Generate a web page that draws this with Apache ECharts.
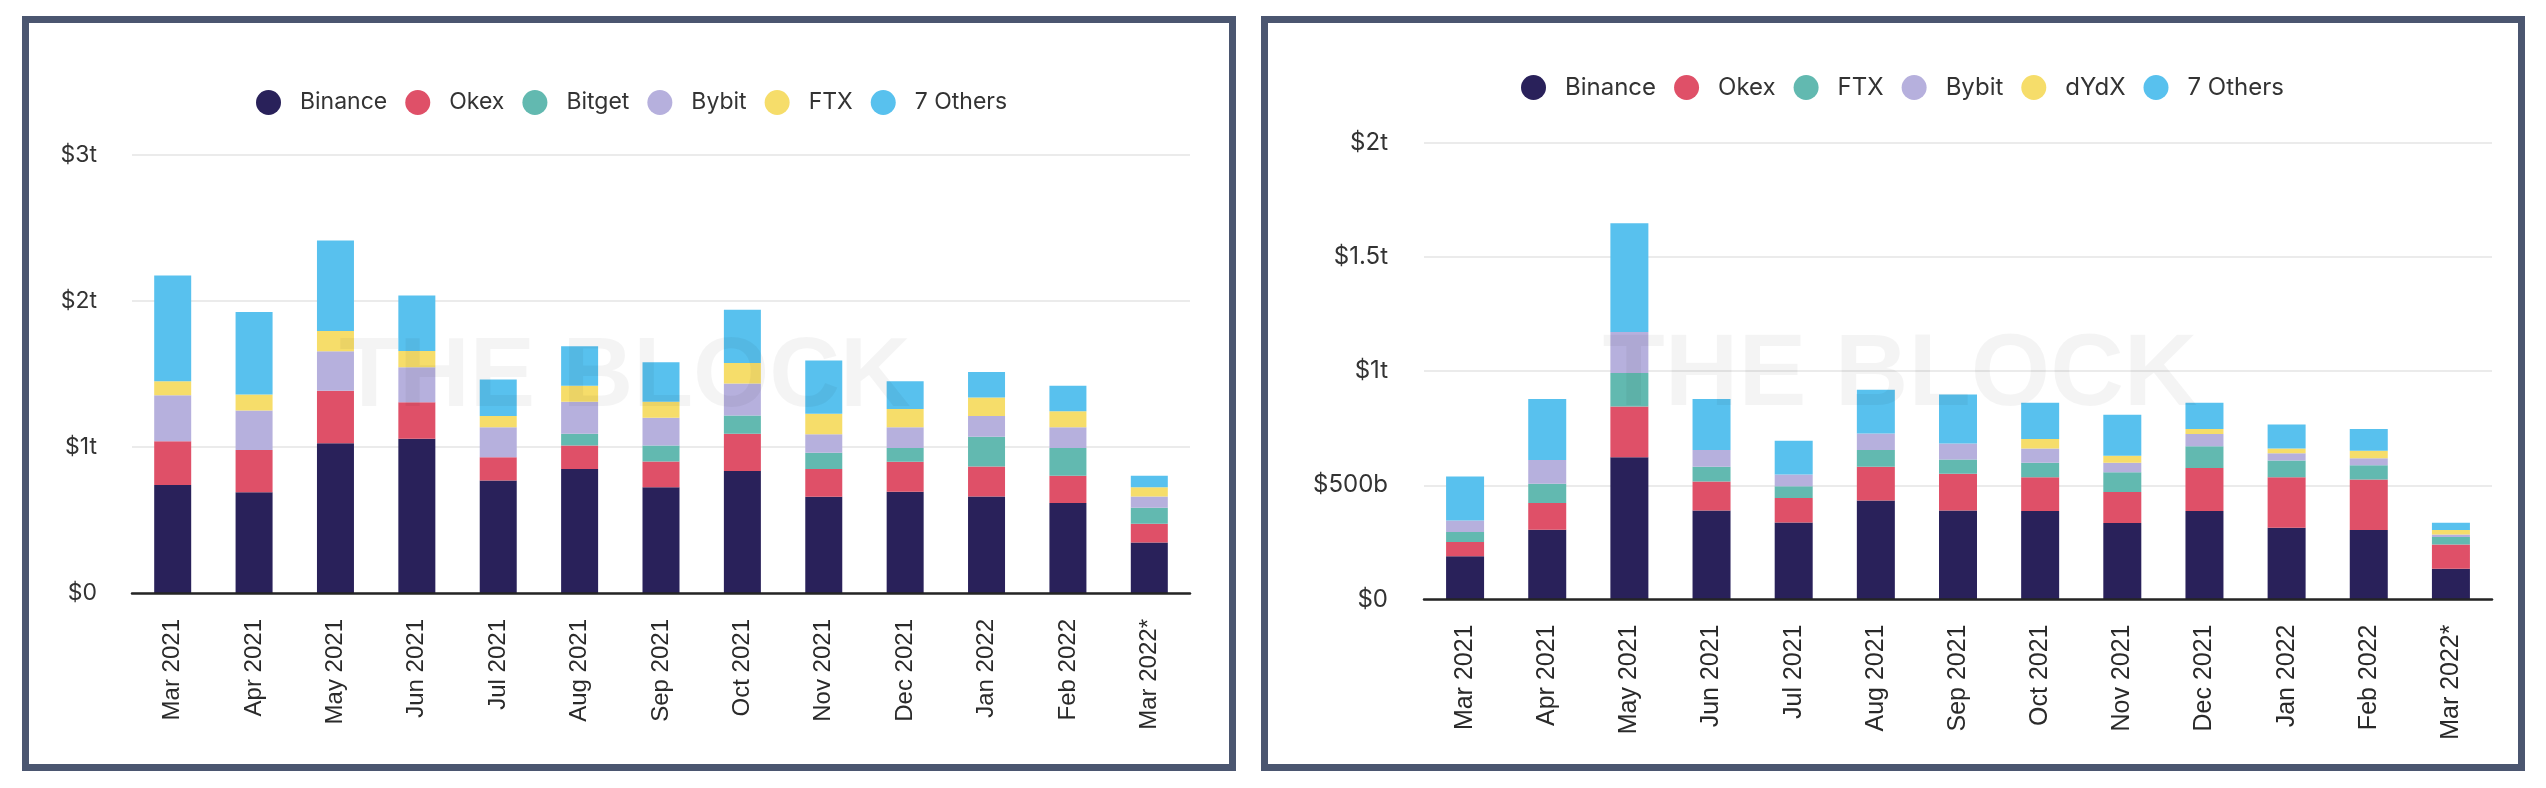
<!DOCTYPE html>
<html><head><meta charset="utf-8">
<script src="https://cdn.jsdelivr.net/npm/echarts@6/dist/echarts.min.js"></script>
<style>
html,body{margin:0;padding:0;background:#fff;width:2546px;height:788px;overflow:hidden}
.panel{position:absolute;box-sizing:border-box;border:7px solid #4b5670;background:#fff}
.chart{position:absolute;left:0;top:0;width:2546px;height:788px}
</style></head><body>
<div class="panel" style="left:22px;top:16px;width:1214px;height:755px"></div>
<div class="panel" style="left:1261px;top:16px;width:1264px;height:755px"></div>
<div id="c1" class="chart"></div>
<div id="c2" class="chart"></div>
<script>
// ---------- DATA ----------
const categories = ['Mar 2021','Apr 2021','May 2021','Jun 2021','Jul 2021','Aug 2021','Sep 2021','Oct 2021','Nov 2021','Dec 2021','Jan 2022','Feb 2022','Mar 2022*'];

// Left chart (values in $ trillions)
const leftNames = ['Binance','Okex','Bitget','Bybit','FTX','7 Others'];
const binanceL = [0.74, 0.69, 1.025, 1.057, 0.77, 0.85, 0.725, 0.835, 0.66, 0.693, 0.661, 0.616, 0.346];
const okexL    = [0.30, 0.29, 0.36, 0.25, 0.16, 0.16, 0.175, 0.255, 0.19, 0.206, 0.206, 0.187, 0.128];
const bitgetL  = [0, 0, 0, 0, 0, 0.08, 0.11, 0.125, 0.11, 0.094, 0.204, 0.19, 0.11];
const bybitL   = [0.315, 0.27, 0.27, 0.24, 0.205, 0.22, 0.19, 0.22, 0.128, 0.142, 0.142, 0.142, 0.077];
const ftxL     = [0.095, 0.11, 0.14, 0.11, 0.078, 0.11, 0.11, 0.14, 0.14, 0.126, 0.126, 0.11, 0.064];
const othersL  = [0.725, 0.565, 0.62, 0.38, 0.25, 0.27, 0.27, 0.365, 0.364, 0.19, 0.174, 0.174, 0.078];
const leftTicks = ['$0','$1t','$2t','$3t'];

// Right chart (values in $ billions)
const rightNames = ['Binance','Okex','FTX','Bybit','dYdX','7 Others'];
const binanceR = [189, 305, 622, 390, 337, 433, 390, 387, 335, 387, 314, 304, 135];
const okexR    = [63, 117, 223, 126, 107, 148, 160, 148, 136, 189, 221, 221, 106];
const ftxR     = [43, 85, 146, 65, 52, 73, 63, 63, 86, 95, 73, 63, 32];
const bybitR   = [51, 103, 180, 73, 51, 73, 70, 63, 41, 53, 32, 30, 11];
const dydxR    = [0, 0, 0, 0, 0, 0, 0, 41, 31, 22, 21, 33, 20];
const othersR  = [192, 267, 476, 223, 148, 191, 214, 159, 179, 115, 105, 95, 32];
const rightTicks = ['$0','$500b','$1t','$1.5t','$2t'];

const palette = ['#29215a','#df5068','#62b9b0','#b6b0dd','#f6dd6a','#58c1ee'];
const watermark = 'THE BLOCK';

// ---------- BUILD ----------
function build(cfg){
  return {
    animation:false,
    color: palette,
    legend:{
      left: cfg.legendLeft, top: cfg.legendTop,
      icon:'circle', itemWidth:25, itemHeight:25, itemGap:18,
      data: cfg.names,
      textStyle:{fontFamily:'Inter', fontSize:cfg.legendFont, color:'#333', padding:[0,0,0,14]}
    },
    grid:{left:cfg.grid[0], top:cfg.grid[1], width:cfg.grid[2], height:cfg.grid[3], containLabel:false},
    xAxis:{
      type:'category', data:categories, z:10,
      axisLine:{show:true, lineStyle:{color:'#252525', width:2.5}},
      axisTick:{show:false},
      axisLabel:{rotate:90, margin:cfg.xMargin, fontFamily:'Liberation Sans', fontSize:cfg.xFont, color:'#2a2a2a', interval:0}
    },
    yAxis:{
      type:'value', min:0, max:cfg.max, interval:cfg.interval,
      axisLine:{show:false}, axisTick:{show:false},
      splitLine:{lineStyle:{color:'#ebebeb', width:2}},
      axisLabel:{margin:cfg.yMargin, fontFamily:'Inter', fontSize:cfg.yFont, color:'#333',
        formatter:(v)=>cfg.ticks[Math.round(v/cfg.interval)]}
    },
    series: cfg.names.map((n,i)=>({
      name:n, type:'bar', stack:'total', barWidth:cfg.barWidth,
      data:cfg.values[i],
      itemStyle:{color:palette[i]}
    })),
    graphic:[{
      type:'text', x:cfg.wm[0], y:cfg.wm[1], z:100, silent:true,
      style:{text:watermark, fontFamily:'Liberation Sans', fontWeight:'bold', fontSize:cfg.wm[2],
        fill:'rgba(0,0,0,0.045)', textAlign:'center', textVerticalAlign:'middle'}
    }]
  };
}

const c1 = echarts.init(document.getElementById('c1'));
c1.setOption(build({
  names:leftNames, values:[binanceL,okexL,bitgetL,bybitL,ftxL,othersL],
  legendLeft:251, legendTop:85, legendFont:23,
  grid:[132,155,1058,438], max:3, interval:1, ticks:leftTicks,
  xMargin:26, xFont:24, yMargin:35, yFont:23, barWidth:37,
  wm:[625,379,98]
}));

const c2 = echarts.init(document.getElementById('c2'));
c2.setOption(build({
  names:rightNames, values:[binanceR,okexR,ftxR,bybitR,dydxR,othersR],
  legendLeft:1516, legendTop:70, legendFont:24,
  grid:[1424,142.5,1068,457], max:2000, interval:500, ticks:rightTicks,
  xMargin:25, xFont:25, yMargin:36, yFont:24, barWidth:38,
  wm:[1900,377,102]
}));
</script>
</body></html>
